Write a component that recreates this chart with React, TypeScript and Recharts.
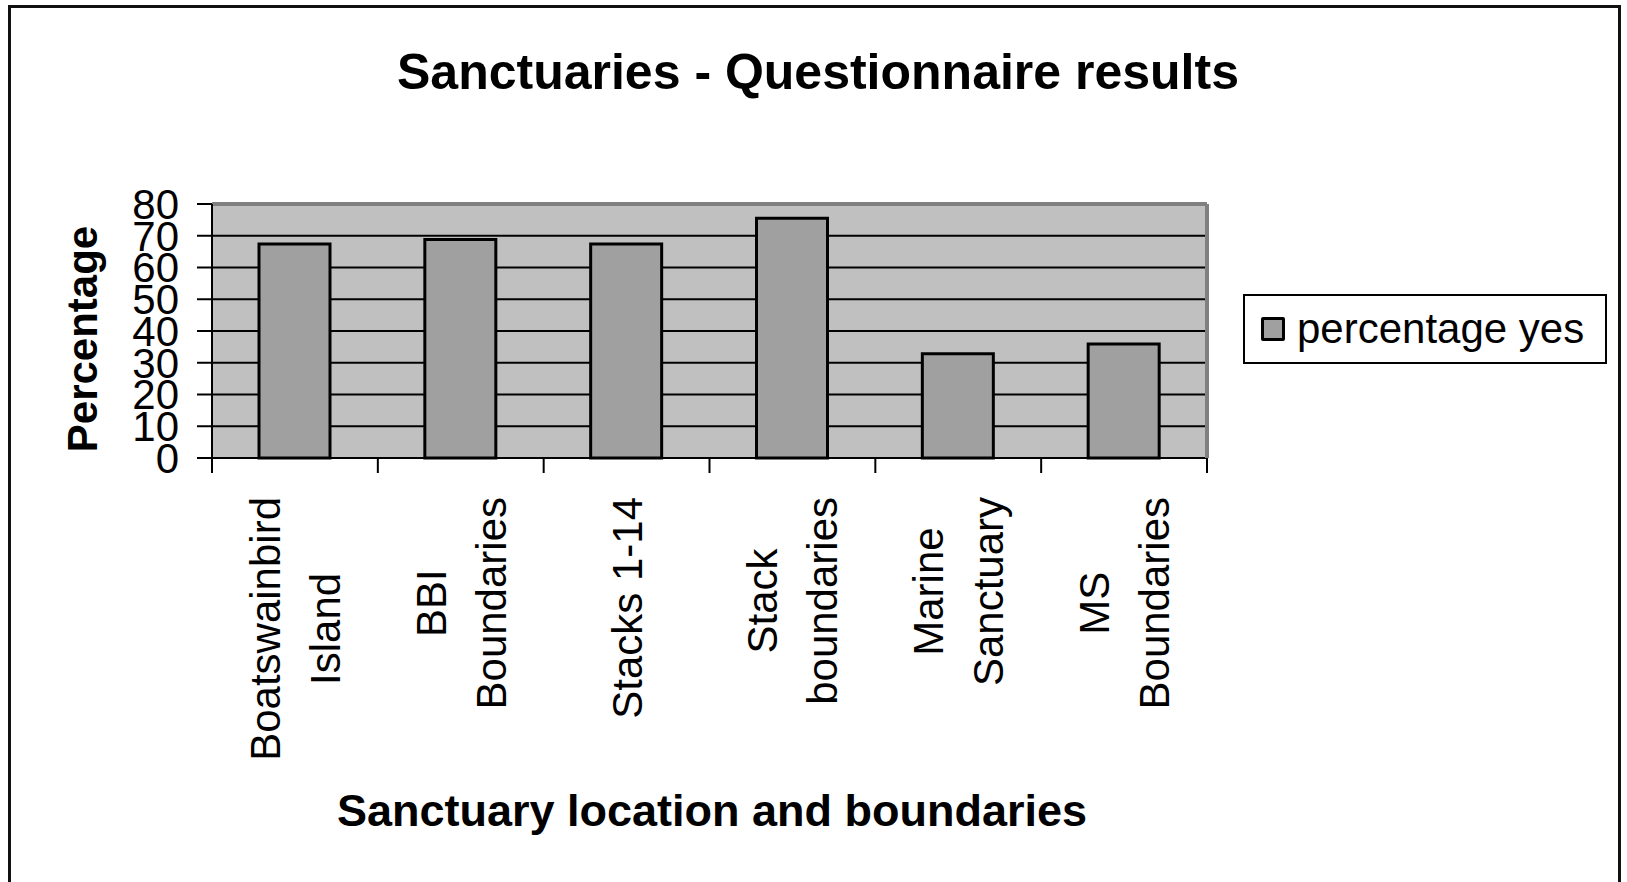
import React from "react"
import { BarChart, Bar, XAxis, YAxis, CartesianGrid, Legend, ReferenceLine } from "recharts"

const categories = [
    "Boatswainbird\nIsland",
    "BBI\nBoundaries",
    "Stacks 1-14",
    "Stack\nboundaries",
    "Marine\nSanctuary",
    "MS\nBoundaries",
]
const percentYes = [67.4, 68.8, 67.4, 75.5, 32.8, 35.9]
const yTicks = [0, 10, 20, 30, 40, 50, 60, 70, 80]

const data = categories.map((name, i) => ({ name, yes: percentYes[i] }))

const FONT = "'Liberation Sans', Arial, sans-serif"

let measureCtx: CanvasRenderingContext2D | null = null
function textWidth(s: string, size: number) {
    if (!measureCtx) measureCtx = document.createElement("canvas").getContext("2d")
    if (!measureCtx) return s.length * size * 0.5
    measureCtx.font = `${size}px 'Liberation Sans', Arial, sans-serif`
    return measureCtx.measureText(s).width
}

// rotated, centred multi-line category label + tick marks on the band edges
function CategoryTick(props: any) {
    const { x, y, payload, index } = props
    const half = typeof payload?.offset === "number" ? payload.offset : 0
    const lines = String(payload.value).split("\n")
    const size = 42
    const longest = Math.max(...lines.map((l) => textWidth(l, size)))
    const cx = -39 - longest / 2
    const isLast = index === categories.length - 1
    return (
        <g>
            {half > 0 && <line x1={x - half} x2={x - half} y1={y} y2={y + 15} stroke="#000" strokeWidth={2} />}
            {half > 0 && isLast && <line x1={x + half} x2={x + half} y1={y} y2={y + 15} stroke="#000" strokeWidth={2} />}
            <g transform={`translate(${x},${y}) rotate(-90)`}>
                {lines.map((l, i) => (
                    <text
                        key={i}
                        x={cx}
                        y={(i - (lines.length - 1) / 2) * 60 + 15}
                        textAnchor="middle"
                        fontSize={size}
                        fontFamily={FONT}
                        fill="#000"
                    >
                        {l}
                    </text>
                ))}
            </g>
        </g>
    )
}

function LegendBox() {
    return (
        <div
            style={{
                boxSizing: "border-box",
                width: 364,
                height: 70,
                border: "2px solid #000",
                background: "#fff",
                display: "flex",
                alignItems: "center",
                paddingLeft: 16,
                fontFamily: FONT,
                fontSize: 42,
                color: "#000",
            }}
        >
            <span
                style={{
                    boxSizing: "border-box",
                    width: 24,
                    height: 24,
                    border: "3px solid #000",
                    borderRadius: 2,
                    background: "#a0a0a0",
                    marginRight: 12,
                }}
            />
            percentage yes
        </div>
    )
}

export default function App() {
    return (
        <div style={{ position: "absolute", left: 0, top: 0, width: 1627, height: 882, overflow: "hidden", background: "#fff" }}>
            <div
                style={{
                    position: "absolute",
                    left: 8,
                    top: 5,
                    width: 1613,
                    height: 1000,
                    boxSizing: "border-box",
                    border: "3px solid #111",
                }}
            />
            <div style={{ position: "absolute", left: 0, top: 0 }}>
                <BarChart width={1627} height={882} data={data} margin={{ top: 204, right: 419, bottom: 423, left: 152 }}>
                    <CartesianGrid vertical={false} fill="#c0c0c0" fillOpacity={1} stroke="#000" strokeWidth={2} />
                    <XAxis
                        dataKey="name"
                        interval={0}
                        height={1}
                        tickSize={0}
                        tickMargin={0}
                        tickLine={false}
                        axisLine={{ stroke: "#000", strokeWidth: 2 }}
                        tick={<CategoryTick />}
                    />
                    <YAxis
                        domain={[0, 80]}
                        ticks={yTicks}
                        interval={0}
                        width={60}
                        tickSize={15}
                        tickMargin={18}
                        axisLine={{ stroke: "#000", strokeWidth: 2 }}
                        tickLine={{ stroke: "#000", strokeWidth: 2 }}
                        tick={{ fontSize: 42, fontFamily: FONT, fill: "#000" }}
                    />
                    <YAxis
                        yAxisId="frame"
                        orientation="right"
                        domain={[0, 80]}
                        width={1}
                        tick={false}
                        tickLine={false}
                        axisLine={{ stroke: "#808080", strokeWidth: 4 }}
                    />
                    <ReferenceLine y={80} stroke="#808080" strokeWidth={4} />
                    <Bar
                        dataKey="yes"
                        name="percentage yes"
                        fill="#a0a0a0"
                        stroke="#000"
                        strokeWidth={3}
                        barSize={71}
                        isAnimationActive={false}
                    />
                    <Legend
                        layout="horizontal"
                        align="center"
                        verticalAlign="middle"
                        content={<LegendBox />}
                        wrapperStyle={{ left: 1243, top: 294, width: 364 }}
                    />
                    <text x={818} y={89} textAnchor="middle" fontSize={50} fontWeight="bold" fontFamily={FONT} fill="#000">
                        Sanctuaries - Questionnaire results
                    </text>
                    <text x={712} y={826} textAnchor="middle" fontSize={45} fontWeight="bold" fontFamily={FONT} fill="#000">
                        Sanctuary location and boundaries
                    </text>
                    <text
                        transform="translate(97,339) rotate(-90)"
                        textAnchor="middle"
                        fontSize={42}
                        fontWeight="bold"
                        fontFamily={FONT}
                        fill="#000"
                    >
                        Percentage
                    </text>
                </BarChart>
            </div>
        </div>
    )
}
